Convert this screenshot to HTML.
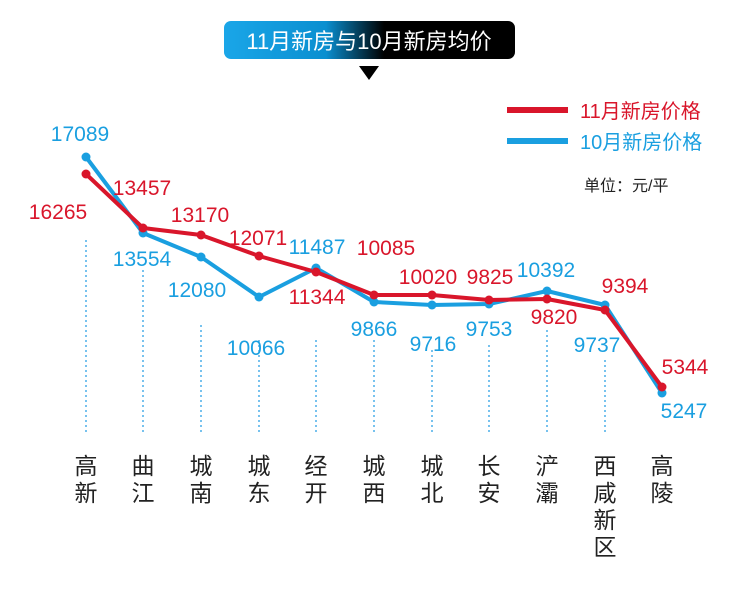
<!DOCTYPE html><html><head><meta charset="utf-8"><style>
body{margin:0;width:738px;height:600px;background:#fff;overflow:hidden}
</style></head><body>
<svg width="738" height="600" xmlns="http://www.w3.org/2000/svg" font-family="'Liberation Sans','Noto Sans CJK SC',sans-serif">
<defs><linearGradient id="g" x1="0" x2="1"><stop offset="0" stop-color="#1aa6e8"/><stop offset="0.35" stop-color="#0a8fd0"/><stop offset="0.55" stop-color="#000"/><stop offset="1" stop-color="#000"/></linearGradient></defs>
<rect x="224" y="21" width="291" height="38" rx="7" fill="url(#g)"/>
<text x="369" y="49" text-anchor="middle" fill="#fff" font-size="22">11月新房与10月新房均价</text>
<polygon points="359,66 379,66 369,80" fill="#000"/>
<line x1="507" y1="110" x2="568" y2="110" stroke="#d9162b" stroke-width="6"/>
<text x="580" y="118" fill="#d9162b" font-size="20">11月新房价格</text>
<line x1="507" y1="141" x2="568" y2="141" stroke="#1a9fe0" stroke-width="6"/>
<text x="580" y="149" fill="#1a9fe0" font-size="20">10月新房价格</text>
<text x="584" y="191" fill="#222" font-size="16">单位：元/平</text>
<g stroke="#4aaee8" stroke-width="1.5" stroke-dasharray="2,3">
<line x1="86" y1="240" x2="86" y2="432"/><line x1="143" y1="270" x2="143" y2="432"/><line x1="201" y1="325" x2="201" y2="432"/><line x1="259" y1="340" x2="259" y2="432"/><line x1="316" y1="340" x2="316" y2="432"/><line x1="374" y1="340" x2="374" y2="432"/><line x1="432" y1="350" x2="432" y2="432"/><line x1="489" y1="345" x2="489" y2="432"/><line x1="547" y1="330" x2="547" y2="432"/><line x1="605" y1="360" x2="605" y2="432"/>
</g>
<g fill="none" stroke-width="4" stroke-linejoin="round">
<polyline stroke="#1a9fe0" points="86,157 143,233 201,257 259,297 316,268 374,302 432,305 489,304 547,291 605,305 662,393"/>
<polyline stroke="#d9162b" points="86,174 143,228 201,235 259,256 316,272 374,295 432,295 489,300 547,299 605,310 662,387"/>
</g>
<g fill="#1a9fe0"><circle cx="86" cy="157" r="4.5"/><circle cx="143" cy="233" r="4.5"/><circle cx="201" cy="257" r="4.5"/><circle cx="259" cy="297" r="4.5"/><circle cx="316" cy="268" r="4.5"/><circle cx="374" cy="302" r="4.5"/><circle cx="432" cy="305" r="4.5"/><circle cx="489" cy="304" r="4.5"/><circle cx="547" cy="291" r="4.5"/><circle cx="605" cy="305" r="4.5"/><circle cx="662" cy="393" r="4.5"/></g>
<g fill="#d9162b"><circle cx="86" cy="174" r="4.5"/><circle cx="143" cy="228" r="4.5"/><circle cx="201" cy="235" r="4.5"/><circle cx="259" cy="256" r="4.5"/><circle cx="316" cy="272" r="4.5"/><circle cx="374" cy="295" r="4.5"/><circle cx="432" cy="295" r="4.5"/><circle cx="489" cy="300" r="4.5"/><circle cx="547" cy="299" r="4.5"/><circle cx="605" cy="310" r="4.5"/><circle cx="662" cy="387" r="4.5"/></g>
<g font-size="21" fill="#1a9fe0" text-anchor="middle">
<text x="80" y="141">17089</text><text x="142" y="266">13554</text><text x="197" y="297">12080</text><text x="256" y="355">10066</text><text x="317" y="254">11487</text><text x="374" y="336">9866</text><text x="433" y="351">9716</text><text x="489" y="336">9753</text><text x="546" y="277">10392</text><text x="597" y="352">9737</text><text x="684" y="418">5247</text>
</g>
<g font-size="21" fill="#d9162b" text-anchor="middle">
<text x="58" y="219">16265</text><text x="142" y="195">13457</text><text x="200" y="222">13170</text><text x="258" y="245">12071</text><text x="317" y="304">11344</text><text x="386" y="255">10085</text><text x="428" y="284">10020</text><text x="490" y="284">9825</text><text x="554" y="324">9820</text><text x="625" y="293">9394</text><text x="685" y="374">5344</text>
</g>
<g font-size="23" fill="#222" text-anchor="middle">
<text x="86" y="474">高</text><text x="86" y="501">新</text>
<text x="143" y="474">曲</text><text x="143" y="501">江</text>
<text x="201" y="474">城</text><text x="201" y="501">南</text>
<text x="259" y="474">城</text><text x="259" y="501">东</text>
<text x="316" y="474">经</text><text x="316" y="501">开</text>
<text x="374" y="474">城</text><text x="374" y="501">西</text>
<text x="432" y="474">城</text><text x="432" y="501">北</text>
<text x="489" y="474">长</text><text x="489" y="501">安</text>
<text x="547" y="474">浐</text><text x="547" y="501">灞</text>
<text x="605" y="474">西</text><text x="605" y="501">咸</text><text x="605" y="528">新</text><text x="605" y="555">区</text>
<text x="662" y="474">高</text><text x="662" y="501">陵</text>
</g>
</svg>
</body></html>
